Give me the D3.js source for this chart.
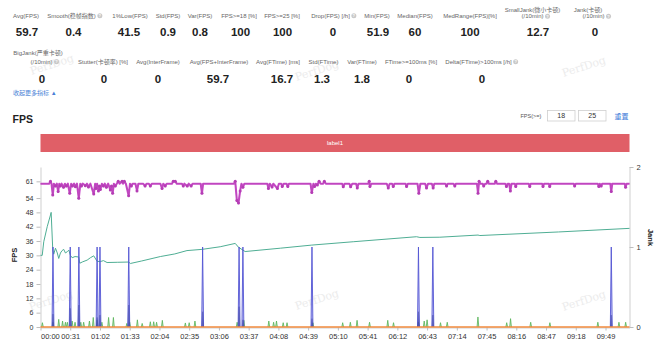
<!DOCTYPE html>
<html><head><meta charset="utf-8">
<script src="https://cdn.jsdelivr.net/npm/d3@7"></script>
<style>html,body{margin:0;padding:0;background:#fff;} svg{display:block;}</style>
</head><body>
<svg id="c" width="660" height="344"></svg>
<script>
// ---------- DATA ----------
const row1Labels = [["Avg(FPS)"],["Smooth(稳帧指数)"],["1%Low(FPS)"],["Std(FPS)"],["Var(FPS)"],["FPS>=18 [%]"],["FPS>=25 [%]"],["Drop(FPS) [/h]"],["Min(FPS)"],["Median(FPS)"],["MedRange(FPS)[%]"],["SmallJank(微小卡顿)","(/10min)"],["Jank(卡顿)","(/10min)"]];
const row1Values = ["59.7","0.4","41.5","0.9","0.8","100","100","0","51.9","60","100","12.7","0"];
const row1Info = [false,true,false,false,false,false,false,true,false,false,false,true,true];
const row2Labels = [["BigJank(严重卡顿)","(/10min)"],["Stutter(卡顿率) [%]"],["Avg(InterFrame)"],["Avg(FPS+InterFrame)"],["Avg(FTime) [ms]"],["Std(FTime)"],["Var(FTime)"],["FTime>=100ms [%]"],["Delta(FTime)>100ms [/h]"]];
const row2Values = ["0","0","0","59.7","16.7","1.3","1.8","0","0"];
const row2Info = [true,false,false,false,false,false,false,false,true];

const xTickLabels = ["00:00","00:31","01:02","01:33","02:04","02:35","03:06","03:37","04:08","04:39","05:10","05:41","06:12","06:43","07:14","07:45","08:16","08:47","09:18","09:49"];
const yLeftTicks = [0,6,12,18,24,30,36,42,48,54,61];
const yRightTicks = [0,1,2];
const durationSec = 614;

// FPS series [seconds, fps]
const fpsPoints = [[0,60],[9,60],[10.4,61],[11.5,60],[12.8,55.3],[14,60],[15.6,59],[17,60],[18.4,56.7],[19.6,60],[20.8,59],[22,60],[24,58.5],[25.5,60],[27,59],[28.5,60],[30.5,56],[32,60],[33.3,59],[35,60],[36.4,58.7],[38,60],[39.9,53.9],[41.5,60],[42.7,59],[44,60],[46.8,59.2],[48.5,60],[50,58.6],[52,60],[55.5,55.7],[57,60],[57.8,58],[59,60],[60.4,57],[61.5,59],[62.4,57.6],[64,60],[65.6,59],[67,60],[68.7,58.5],[70.5,60],[72.8,57.4],[74,59],[75.2,56],[76.5,60],[78,59],[79.5,60],[81,61],[82.5,60],[85,61],[86,60],[87.4,61],[89,60],[91.9,55],[93.3,60],[94.7,59],[96,60],[99,60],[100.6,57],[102,60],[107,60],[109,59],[110.5,60],[113,60],[114.5,59],[116,60],[125,60],[126.7,58],[128,60],[130,59],[131.5,60],[137,60],[138.4,61],[140.5,61],[142,60],[147.5,60],[148.8,59],[150,60],[153,59],[154.5,60],[157,59],[158.5,60],[167,60],[168.3,56],[169.5,60],[201.5,60],[203,61],[204.7,53],[206.4,51.9],[208.1,57],[209.5,60],[211,58.5],[212.5,60],[236.5,60],[237.6,58],[239,60],[241.4,58.6],[242.7,60],[247,58],[248.5,60],[251,60],[252,58.8],[253.5,60],[256.5,60],[257.8,58.8],[259,60],[281.5,60],[282.8,56.3],[284.5,60],[285.7,58.8],[287,60],[288.6,59.5],[290.4,61],[292,60],[294.5,60],[295.9,61],[297.5,60],[314.5,60],[315.6,58.7],[317,60],[322,60],[323.3,58.7],[325,60],[329,60],[330.2,58.2],[331.5,60],[341.5,60],[342.7,61],[343.4,58.8],[345,60],[361,60],[362.5,58.2],[364,60],[366.5,60],[367.7,58.8],[369,60],[380.5,60],[381.6,58.8],[383,60],[393,60],[394.4,56],[396,60],[401,60],[402.4,58.2],[404,60],[408,60],[409.3,58.2],[410.5,60],[422,60],[423.3,59],[424.5,60],[430.5,60],[431.9,59],[433,60],[455,60],[456.1,56],[457.2,61],[458.5,60],[461,60],[462,59],[463.5,60],[465,60],[466.2,61],[467.5,60],[473.5,60],[474.6,61],[476,60],[484.5,60],[485.7,58.8],[487,60],[488.5,60],[489.8,57],[491,60],[494.5,60],[495.4,58.8],[496.5,60],[509,60],[510,58.8],[511,60],[523,60],[523.8,58.8],[525,60],[530,60],[530.8,58.8],[532,60],[556,60],[556.8,59],[558,60],[581,60],[582,58.8],[583,60],[584.5,59],[585.5,60],[594,60],[595,56.7],[596,60],[609,60],[609.9,58.5],[611,60],[614,60]];

// teal series [seconds, value]
const tealPoints = [[0,30],[1.8,30],[3.4,35.7],[7,42],[10.4,46.9],[11.1,48],[12.8,32.2],[13.8,30.5],[15.6,33],[17.5,31],[19,28.7],[20.8,31],[22.5,32],[24.2,32.5],[26,31],[27.8,31.5],[29.5,32.2],[31.2,30],[33,29],[36,29.5],[39.9,29.3],[40.9,26.7],[44,27.3],[48.6,28],[52,29],[55.5,29.8],[59,27.5],[62.4,27.4],[65.6,27.8],[69.4,27],[80,27.1],[91.9,27.2],[93.7,26.6],[105,27.6],[124.9,29.5],[140,30.6],[152.7,32],[168.3,32.5],[187.3,33.6],[203,35],[206.4,33.4],[213.3,31.6],[250,33],[282.8,34.3],[326,35.7],[392,37.8],[395.5,37.5],[416.3,37.6],[456.1,38.5],[458,38.3],[540,39.8],[614,41.3]];

// SmallJank events (seconds) -> value 1 on right axis
const smallJankTimes = [13,31,40,59,62,92,169,207,211,283,394,409,595];
// darker base under each jank spike (left-axis units)
const jankBaseValues = [5.4,7.8,9.2,4,5,9.2,6.4,8.5,3,3.5,6.4,5,5];

// green small spikes [seconds] and heights
const greenTimes = [2,13,19,23,26,28,33,36,42,45,51,55,59,64,71,76,90,93,101,106,114.5,118,121,127,151,155,161,205,212,238,243,246,253,257,284,315,323,330,343,362,368,394,400,403,417,424,456,486,490,511,531,581,603,610];
const greenValues = [1.8,2,3.2,2.5,2,2,2.5,2,2,2,2.5,4,3,2,4,4,1.5,2,3,1.5,2.2,2.2,2,2.8,1.7,1.8,2.5,2,2.8,2.5,2,2.5,1.8,1.8,1.8,1.8,2,2.8,2,2.8,1.8,2,2.5,3,1.8,2,4.2,1.8,3.5,2,1.8,2,2,2];

// BigJank series (0 throughout)
const bigJankPoints = [[0,0],[614,0]];

// ---------- DRAW ----------
const svg = d3.select("#c").style("font-family","'Liberation Sans',Arial,'Noto Sans CJK SC',sans-serif");
svg.append("rect").attr("width",660).attr("height",344).attr("fill","#fff");

// watermarks
[[53,68],[318,74],[585,70],[52,304],[318,303],[585,304]].forEach(p=>{
  svg.append("text").attr("transform",`translate(${p[0]},${p[1]}) rotate(-18)`)
    .attr("text-anchor","middle").attr("font-family","'DejaVu Serif',serif")
    .attr("font-size",11).attr("fill","#ececec").text("PerfDog");
});

function infoIcon(cx, cy){
  svg.append("circle").attr("cx",cx).attr("cy",cy).attr("r",2.5).attr("fill","#c9c9c9");
  svg.append("text").attr("x",cx).attr("y",cy+1.5).attr("text-anchor","middle")
    .attr("font-size",4).attr("font-weight","bold").attr("fill","#fff").text("?");
}
function drawStats(labels, values, info, labelX, valueX, oneLineY, twoLineY, valueY){
  labels.forEach((lines,i)=>{
    const xs = Array.isArray(labelX[i]) ? labelX[i] : [labelX[i]];
    const ys = lines.length===1 ? [oneLineY] : twoLineY;
    lines.forEach((ln,j)=>{
      const cx = xs[Math.min(j,xs.length-1)];
      const hasIcon = info[i] && j===lines.length-1;
      const t = svg.append("text").attr("y",ys[j]).attr("font-size",6).attr("fill","#666")
        .attr("text-anchor","middle").text(ln);
      if(hasIcon){
        const w = t.node().getComputedTextLength();
        const tx = cx - 3.5;
        t.attr("x",tx);
        infoIcon(tx + w/2 + 4, ys[j]-2);
      } else t.attr("x",cx);
    });
    svg.append("text").attr("x",valueX[i]).attr("y",valueY).attr("text-anchor","middle")
      .attr("font-size",11.5).attr("font-weight","bold").attr("fill","#222").text(values[i]);
  });
}
drawStats(row1Labels,row1Values,row1Info,
  [26,75,130,168,200,239,282,334,377,415,470,[532.5,536],[588,597]],
  [27,73.5,129,168,200,240.5,282.5,333,378,415,470,538,595],
  17.8,[12,18.2],36.2);
drawStats(row2Labels,row2Values,row2Info,
  [[38,45],103,158,219,278,323.5,362,411,482],
  [42,104,158,218,282,322,362,409,482],
  63.8,[55.4,63.8],83.2);

svg.append("text").attr("x",13).attr("y",95.2).attr("font-size",6).attr("fill","#4a7fd6").text("收起更多指标 ▲");

// header
svg.append("text").attr("x",12.5).attr("y",122.5).attr("font-size",10.5).attr("font-weight","bold").attr("fill","#222").text("FPS");
svg.append("text").attr("x",520.5).attr("y",117.5).attr("font-size",5.5).attr("fill","#555").text("FPS(>=)");
[[547.5,"18"],[578.5,"25"]].forEach(b=>{
  svg.append("rect").attr("x",b[0]).attr("y",110.5).attr("width",27.5).attr("height",10.5)
    .attr("fill","#fff").attr("stroke","#cfcfcf").attr("stroke-width",0.8);
  svg.append("text").attr("x",b[0]+13.75).attr("y",118.3).attr("text-anchor","middle")
    .attr("font-size",7).attr("fill","#333").text(b[1]);
});
svg.append("text").attr("x",614.5).attr("y",118.5).attr("font-size",7).attr("fill","#3a78d8").text("重置");

const x = d3.scaleLinear().domain([0,durationSec]).range([40.5,629.5]);
const yL = d3.scaleLinear().domain([0,67]).range([327,167]);
const yR = d3.scaleLinear().domain([0,2]).range([327,167]);

// label band
svg.append("rect").attr("x",x(0)).attr("y",134).attr("width",x(durationSec)-x(0)).attr("height",18).attr("fill","#e05f67");
svg.append("text").attr("x",(x(0)+x(durationSec))/2).attr("y",145.2).attr("text-anchor","middle")
  .attr("font-size",6).attr("fill","#fff").text("label1");

// axes
function styleAxis(g, fs){
  g.select(".domain").attr("stroke","#cfcfcf");
  g.selectAll(".tick line").attr("stroke","#bdbdbd");
  g.selectAll(".tick text").attr("fill","#333").attr("font-size",fs).attr("font-family","'Liberation Sans',Arial,sans-serif");
}
const gl = svg.append("g").attr("transform","translate(40.5,0)")
  .call(d3.axisLeft(yL).tickValues(yLeftTicks).tickSize(4).tickSizeOuter(0).tickPadding(3));
styleAxis(gl,7);
const gr = svg.append("g").attr("transform","translate(629.5,0)")
  .call(d3.axisRight(yR).tickValues(yRightTicks).tickSize(4).tickSizeOuter(0).tickPadding(3).tickFormat(d3.format("d")));
styleAxis(gr,7.5);
const xSecs = xTickLabels.map(s=>{const p=s.split(":");return (+p[0])*60+(+p[1]);});
const gb = svg.append("g").attr("transform","translate(0,327.5)")
  .call(d3.axisBottom(x).tickValues(xSecs).tickFormat((d,i)=>xTickLabels[i]).tickSize(3).tickSizeOuter(0).tickPadding(3));
styleAxis(gb,7.5);
gb.selectAll(".tick text").filter((d,i)=>i===0).attr("text-anchor","start");

svg.append("text").attr("transform","translate(16.5,255) rotate(-90)").attr("text-anchor","middle")
  .attr("font-size",7.5).attr("font-weight","bold").attr("fill","#222").text("FPS");
svg.append("text").attr("transform","translate(647.5,237.5) rotate(90)").attr("text-anchor","middle")
  .attr("font-size",7.5).attr("font-weight","bold").attr("fill","#222").text("Jank");

// series
const lineL = d3.line().x(d=>x(d[0])).y(d=>yL(d[1]));
const lineR = d3.line().x(d=>x(d[0])).y(d=>yR(d[1]));

svg.append("path").datum(tealPoints).attr("d",lineL).attr("fill","none")
  .attr("stroke","#4fae94").attr("stroke-width",1);

greenTimes.forEach((t,i)=>{
  svg.append("path").datum([[t-0.9,0],[t,greenValues[i]],[t+0.9,0]]).attr("d",lineL)
    .attr("fill","rgba(90,180,90,0.35)").attr("stroke","#56b356").attr("stroke-width",0.8);
});

smallJankTimes.forEach((t,i)=>{
  svg.append("path").datum([[t-1,0],[t,1],[t+1,0]]).attr("d",lineR)
    .attr("fill","rgba(120,120,230,0.4)").attr("stroke","#5356d4").attr("stroke-width",0.9);
  svg.append("path").datum([[t-0.8,0],[t,jankBaseValues[i]],[t+0.8,0]]).attr("d",lineL)
    .attr("fill","#3d43a8").attr("stroke","#3d43a8").attr("stroke-width",0.6).attr("opacity",0.75);
});

svg.append("path").datum(bigJankPoints).attr("d",lineR).attr("fill","none")
  .attr("stroke","#f08a3c").attr("stroke-width",1.5);

svg.append("path").datum(fpsPoints).attr("d",lineL).attr("fill","none")
  .attr("stroke","#c94dc9").attr("stroke-width",2.1).attr("stroke-linejoin","round");
svg.append("path").datum(fpsPoints).attr("d",lineL).attr("fill","none")
  .attr("stroke","#b040b0").attr("stroke-width",0.5);
svg.selectAll("circle.fp").data(fpsPoints.filter(d=>d[1]!==60)).enter().append("circle")
  .attr("class","fp").attr("cx",d=>x(d[0])).attr("cy",d=>yL(d[1])).attr("r",1.5).attr("fill","#b43db4");
</script>
</body></html>
